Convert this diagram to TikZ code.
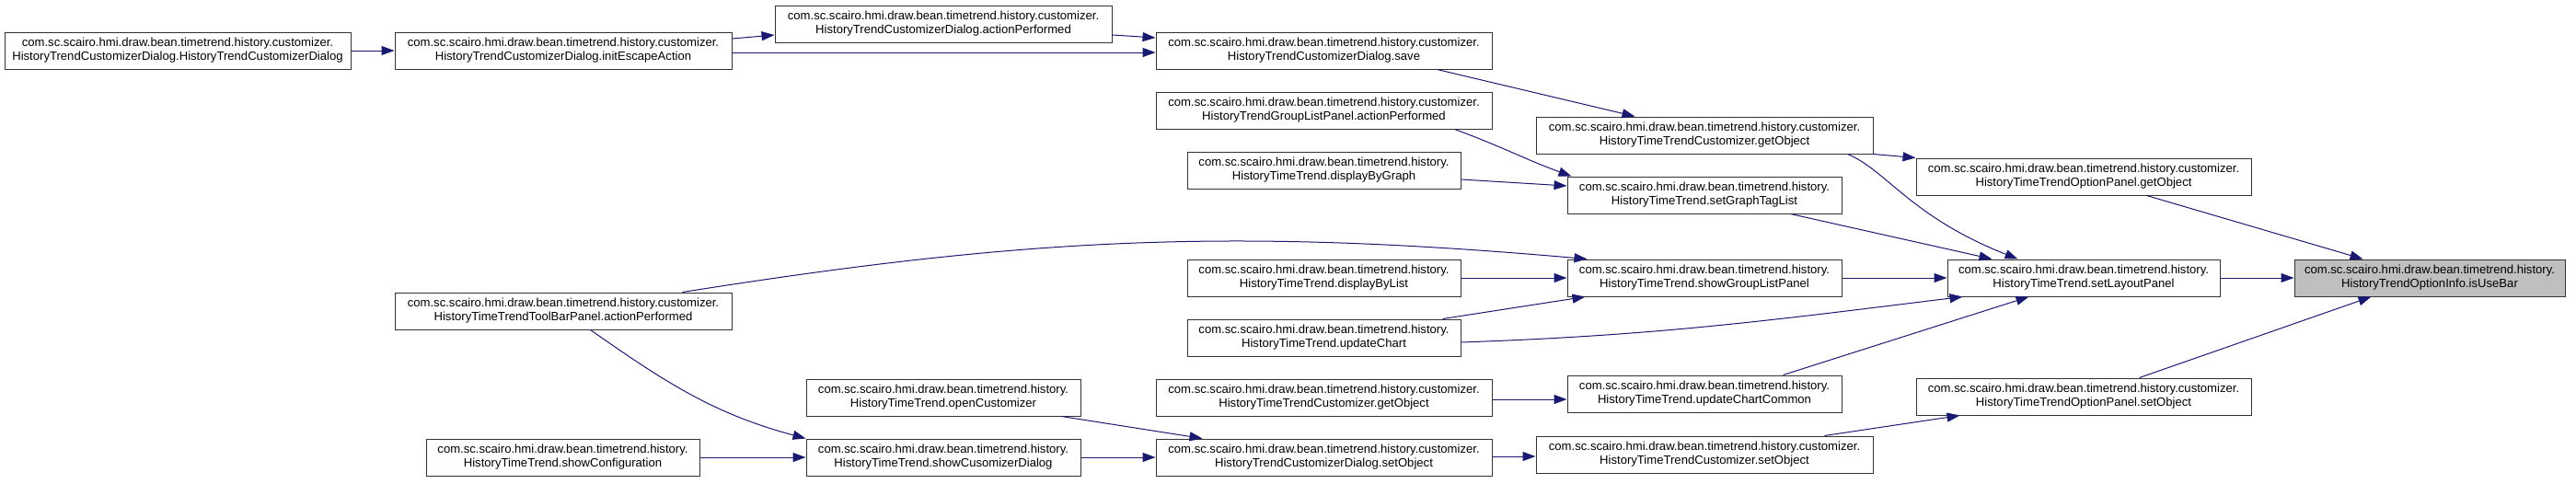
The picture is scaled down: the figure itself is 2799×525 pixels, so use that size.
\documentclass[tikz,border=0pt]{standalone}
\usepackage{fontspec}
\setmainfont{Liberation Sans}
\usetikzlibrary{arrows.meta}
\definecolor{edgeblue}{HTML}{191970}
\definecolor{hlgray}{HTML}{BFBFBF}

\begin{document}
\begin{tikzpicture}[
  x=1pt, y=-1pt,
  fn/.style={draw=black!80, line width=1pt, fill=white, minimum height=40pt,
    inner sep=0pt, align=center, font=\fontsize{13.1}{15}\selectfont},
  hl/.style={fn, fill=hlgray},
  call/.style={draw=edgeblue, line width=1pt, -{Triangle[length=14pt,width=10pt]}}
]
\useasboundingbox (0,0) rectangle (2799,525);

% column 1
\node[fn, minimum width=376pt] (dlgctor) at (193,55)
  {com.sc.scairo.hmi.draw.bean.timetrend.history.customizer.\\HistoryTrendCustomizerDialog.HistoryTrendCustomizerDialog};

% column 2
\node[fn, minimum width=366pt] (initesc) at (612,55)
  {com.sc.scairo.hmi.draw.bean.timetrend.history.customizer.\\HistoryTrendCustomizerDialog.initEscapeAction};
\node[fn, minimum width=366pt] (toolbar) at (612,338)
  {com.sc.scairo.hmi.draw.bean.timetrend.history.customizer.\\HistoryTimeTrendToolBarPanel.actionPerformed};
\node[fn, minimum width=297pt] (showconf) at (611.5,497)
  {com.sc.scairo.hmi.draw.bean.timetrend.history.\\HistoryTimeTrend.showConfiguration};

% column 3
\node[fn, minimum width=366pt] (dlgaction) at (1025,26)
  {com.sc.scairo.hmi.draw.bean.timetrend.history.customizer.\\HistoryTrendCustomizerDialog.actionPerformed};
\node[fn, minimum width=298pt] (opencust) at (1025,432)
  {com.sc.scairo.hmi.draw.bean.timetrend.history.\\HistoryTimeTrend.openCustomizer};
\node[fn, minimum width=298pt] (showcus) at (1025,497)
  {com.sc.scairo.hmi.draw.bean.timetrend.history.\\HistoryTimeTrend.showCusomizerDialog};

% column 4
\node[fn, minimum width=365pt] (save) at (1438.5,55)
  {com.sc.scairo.hmi.draw.bean.timetrend.history.customizer.\\HistoryTrendCustomizerDialog.save};
\node[fn, minimum width=365pt] (grpaction) at (1438.5,120)
  {com.sc.scairo.hmi.draw.bean.timetrend.history.customizer.\\HistoryTrendGroupListPanel.actionPerformed};
\node[fn, minimum width=297pt] (bygraph) at (1438.5,185)
  {com.sc.scairo.hmi.draw.bean.timetrend.history.\\HistoryTimeTrend.displayByGraph};
\node[fn, minimum width=297pt] (bylist) at (1438.5,302)
  {com.sc.scairo.hmi.draw.bean.timetrend.history.\\HistoryTimeTrend.displayByList};
\node[fn, minimum width=297pt] (updchart) at (1438.5,367)
  {com.sc.scairo.hmi.draw.bean.timetrend.history.\\HistoryTimeTrend.updateChart};
\node[fn, minimum width=365pt] (custget) at (1438.5,432)
  {com.sc.scairo.hmi.draw.bean.timetrend.history.customizer.\\HistoryTimeTrendCustomizer.getObject};
\node[fn, minimum width=365pt] (dlgset) at (1438.5,497)
  {com.sc.scairo.hmi.draw.bean.timetrend.history.customizer.\\HistoryTrendCustomizerDialog.setObject};

% column 5
\node[fn, minimum width=366pt] (custgetb) at (1852,147)
  {com.sc.scairo.hmi.draw.bean.timetrend.history.customizer.\\HistoryTimeTrendCustomizer.getObject};
\node[fn, minimum width=298pt] (settag) at (1852,212)
  {com.sc.scairo.hmi.draw.bean.timetrend.history.\\HistoryTimeTrend.setGraphTagList};
\node[fn, minimum width=298pt] (showgrp) at (1852,302)
  {com.sc.scairo.hmi.draw.bean.timetrend.history.\\HistoryTimeTrend.showGroupListPanel};
\node[fn, minimum width=298pt] (updcommon) at (1852,428)
  {com.sc.scairo.hmi.draw.bean.timetrend.history.\\HistoryTimeTrend.updateChartCommon};
\node[fn, minimum width=366pt] (custset) at (1852,494)
  {com.sc.scairo.hmi.draw.bean.timetrend.history.customizer.\\HistoryTimeTrendCustomizer.setObject};

% column 6
\node[fn, minimum width=364pt] (optget) at (2264,192)
  {com.sc.scairo.hmi.draw.bean.timetrend.history.customizer.\\HistoryTimeTrendOptionPanel.getObject};
\node[fn, minimum width=296pt] (setlayout) at (2264,302)
  {com.sc.scairo.hmi.draw.bean.timetrend.history.\\HistoryTimeTrend.setLayoutPanel};
\node[fn, minimum width=364pt] (optset) at (2264,431)
  {com.sc.scairo.hmi.draw.bean.timetrend.history.customizer.\\HistoryTimeTrendOptionPanel.setObject};

% target
\node[hl, minimum width=294pt] (usebar) at (2640,302)
  {com.sc.scairo.hmi.draw.bean.timetrend.history.\\HistoryTrendOptionInfo.isUseBar};

% calls
\draw[call] (dlgctor) -- (initesc);
\draw[call] ([yshift=13pt]initesc.east) -- ([yshift=-12pt]dlgaction.west);
\draw[call] ([yshift=-2pt]initesc.east) -- ([yshift=-2pt]save.west);
\draw[call] ([yshift=-12pt]dlgaction.east) -- ([yshift=14pt]save.west);
\draw[call] (toolbar.north west) ++(313,0) to[out=9,in=175] ([xshift=22pt]showgrp.north west);
\draw[call] ([xshift=213pt]toolbar.south west) to[out=-35,in=165] (showcus.north west);
\draw[call] (showconf) -- (showcus);
\draw[call] ([xshift=-21pt]opencust.south east) -- ([xshift=51pt]dlgset.north west);
\draw[call] (showcus) -- (dlgset);
\draw[call] ([xshift=306pt]save.south west) -- ([xshift=108pt]custgetb.north west);
\draw[call] ([xshift=-41pt]grpaction.south east) to[out=-20,in=160] ([xshift=5pt]settag.north west);
\draw[call] ([yshift=-10pt]bygraph.east) -- ([yshift=10pt]settag.west);
\draw[call] (bylist) -- (showgrp);
\draw[call] ([xshift=-20pt]updchart.north east) -- ([xshift=20pt]showgrp.south west);
\draw[call] ([yshift=-5pt]updchart.east) to[out=2,in=187] ([xshift=17pt]setlayout.south west);
\draw[call] ([yshift=-2pt]custget.east) -- ([yshift=-2pt]custget.east -| updcommon.west);
\draw[call] ([yshift=1pt]dlgset.east) -- ([yshift=1pt]dlgset.east -| custset.west);
\draw[call] (custgetb.south east) -- (optget.north west);
\draw[call] ([xshift=-28pt]custgetb.south east) .. controls (2050,185) and (2075,235) .. ([xshift=77pt]setlayout.north west);
\draw[call] ([xshift=-56pt]settag.south east) -- ([xshift=49pt]setlayout.north west);
\draw[call] (showgrp) -- (setlayout);
\draw[call] ([xshift=-64pt]updcommon.north east) -- ([xshift=89pt]setlayout.south west);
\draw[call] ([xshift=-53pt]custset.north east) -- ([xshift=48pt]optset.south west);
\draw[call] ([xshift=251pt]optget.south west) -- ([xshift=75pt]usebar.north west);
\draw[call] (setlayout) -- (usebar);
\draw[call] ([xshift=243pt]optset.north west) -- ([xshift=84pt]usebar.south west);
\end{tikzpicture}
\end{document}
